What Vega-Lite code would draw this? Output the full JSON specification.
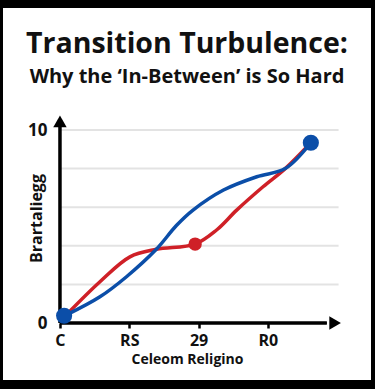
{
  "$schema": "https://vega.github.io/schema/vega-lite/v6.json",
  "width": 368,
  "height": 372,
  "autosize": "none",
  "padding": {"left": 3, "top": 8, "right": 4, "bottom": 9},
  "background": "#000000",
  "config": {
    "view": {"fill": "#ffffff", "stroke": null},
    "font": "Open Sans"
  },
  "title": {
    "text": "Transition Turbulence:",
    "subtitle": "Why the ‘In-Between’ is So Hard",
    "anchor": "middle",
    "frame": "group",
    "orient": "top",
    "offset": -102,
    "baseline": "alphabetic",
    "font": "Open Sans",
    "fontSize": 28.5,
    "fontWeight": "bold",
    "color": "#111111",
    "subtitleFont": "Open Sans",
    "subtitleFontSize": 20,
    "subtitleFontWeight": "bold",
    "subtitleColor": "#111111",
    "subtitlePadding": 2
  },
  "datasets": {
    "lines": [
      {"series": "red", "x": 0.087, "y": 0.41},
      {"series": "red", "x": 0.577, "y": 2.14},
      {"series": "red", "x": 1.01, "y": 3.43},
      {"series": "red", "x": 1.39, "y": 3.82},
      {"series": "red", "x": 1.95, "y": 4.09},
      {"series": "red", "x": 2.26, "y": 4.82},
      {"series": "red", "x": 2.55, "y": 5.85},
      {"series": "red", "x": 2.93, "y": 7.06},
      {"series": "red", "x": 3.25, "y": 8.0},
      {"series": "red", "x": 3.62, "y": 9.34},
      {"series": "blue", "x": 0.087, "y": 0.41},
      {"series": "blue", "x": 0.577, "y": 1.36},
      {"series": "blue", "x": 0.96, "y": 2.4},
      {"series": "blue", "x": 1.39, "y": 3.82},
      {"series": "blue", "x": 1.68, "y": 5.05},
      {"series": "blue", "x": 1.92, "y": 5.85},
      {"series": "blue", "x": 2.36, "y": 6.89},
      {"series": "blue", "x": 2.84, "y": 7.58},
      {"series": "blue", "x": 3.25, "y": 8.0},
      {"series": "blue", "x": 3.62, "y": 9.34}
    ],
    "dots": [
      {"series": "red", "x": 1.95, "y": 4.09},
      {"series": "blue", "x": 0.06, "y": 0.38},
      {"series": "blue", "x": 3.62, "y": 9.34}
    ],
    "grid": [{"y": 2}, {"y": 4}, {"y": 6}, {"y": 8}, {"y": 10}],
    "arrows": [
      {"dir": "up", "x": 0, "y": 10.45},
      {"dir": "right", "x": 3.97, "y": 0}
    ]
  },
  "layer": [
    {
      "data": {"name": "grid"},
      "mark": {"type": "rule", "color": "#e3e3e3", "strokeWidth": 2},
      "encoding": {
        "x": {"datum": 0, "type": "quantitative", "scale": {"domain": [-0.822, 4.488], "nice": false, "zero": false}},
        "x2": {"datum": 4.02},
        "y": {"field": "y", "type": "quantitative", "scale": {"domain": [-2.95, 16.32], "nice": false, "zero": false}}
      }
    },
    {
      "data": {"name": "lines"},
      "mark": {"type": "line", "interpolate": "catmull-rom", "strokeWidth": 3.5, "strokeCap": "round"},
      "encoding": {
        "x": {
          "field": "x", "type": "quantitative",
          "scale": {"domain": [-0.822, 4.488], "nice": false, "zero": false},
          "axis": {
            "title": "Celeom Religino",
            "offset": -57,
            "domain": false,
            "grid": false,
            "values": [0, 1, 2, 3],
            "labelExpr": "['C','RS','29','R0'][datum.value]",
            "tickSize": 5,
            "tickWidth": 2.5,
            "tickColor": "#000000",
            "labelPadding": 4,
            "labelFont": "Open Sans",
            "labelFontSize": 16,
            "labelFontWeight": "bold",
            "labelColor": "#111111",
            "titleFont": "Open Sans",
            "titleFontSize": 14,
            "titleFontWeight": "bold",
            "titleColor": "#111111",
            "titleY": 29
          }
        },
        "y": {
          "field": "y", "type": "quantitative",
          "scale": {"domain": [-2.95, 16.32], "nice": false, "zero": false},
          "axis": {
            "title": "Brartaliegg",
            "offset": -57,
            "domain": false,
            "grid": false,
            "values": [0, 10],
            "tickSize": 0,
            "labelPadding": 13,
            "labelFont": "Open Sans",
            "labelFontSize": 17,
            "labelFontWeight": "bold",
            "labelColor": "#111111",
            "titleFont": "Open Sans",
            "titleFontSize": 16,
            "titleFontWeight": "bold",
            "titleColor": "#111111",
            "titleX": -16,
            "titleY": 210
          }
        },
        "color": {
          "field": "series", "type": "nominal",
          "scale": {"domain": ["red", "blue"], "range": ["#cf2027", "#0b4ea8"]},
          "legend": null
        },
        "order": {"field": "x", "type": "quantitative"}
      }
    },
    {
      "data": {"name": "arrows"},
      "mark": {"type": "rule", "color": "#000000", "strokeWidth": 3},
      "encoding": {
        "x": {"datum": 0, "type": "quantitative", "scale": {"domain": [-0.822, 4.488], "nice": false, "zero": false}},
        "x2": {"datum": 3.85},
        "y": {"datum": 0, "type": "quantitative", "scale": {"domain": [-2.95, 16.32], "nice": false, "zero": false}}
      }
    },
    {
      "data": {"name": "arrows"},
      "mark": {"type": "rule", "color": "#000000", "strokeWidth": 3},
      "encoding": {
        "x": {"datum": 0, "type": "quantitative", "scale": {"domain": [-0.822, 4.488], "nice": false, "zero": false}},
        "y": {"datum": 0, "type": "quantitative", "scale": {"domain": [-2.95, 16.32], "nice": false, "zero": false}},
        "y2": {"datum": 10.2}
      }
    },
    {
      "data": {"name": "arrows"},
      "mark": {"type": "point", "filled": true, "opacity": 1, "color": "#000000", "size": 180},
      "encoding": {
        "x": {"field": "x", "type": "quantitative", "scale": {"domain": [-0.822, 4.488], "nice": false, "zero": false}},
        "y": {"field": "y", "type": "quantitative", "scale": {"domain": [-2.95, 16.32], "nice": false, "zero": false}},
        "shape": {
          "field": "dir", "type": "nominal",
          "scale": {"domain": ["up", "right"], "range": ["triangle-up", "triangle-right"]},
          "legend": null
        }
      }
    },
    {
      "data": {"name": "dots"},
      "mark": {"type": "circle", "opacity": 1},
      "encoding": {
        "x": {"field": "x", "type": "quantitative", "scale": {"domain": [-0.822, 4.488], "nice": false, "zero": false}},
        "y": {"field": "y", "type": "quantitative", "scale": {"domain": [-2.95, 16.32], "nice": false, "zero": false}},
        "color": {
          "field": "series", "type": "nominal",
          "scale": {"domain": ["red", "blue"], "range": ["#cf2027", "#0b4ea8"]},
          "legend": null
        },
        "size": {
          "field": "series", "type": "nominal",
          "scale": {"domain": ["red", "blue"], "range": [180, 260]},
          "legend": null
        }
      }
    }
  ]
}
